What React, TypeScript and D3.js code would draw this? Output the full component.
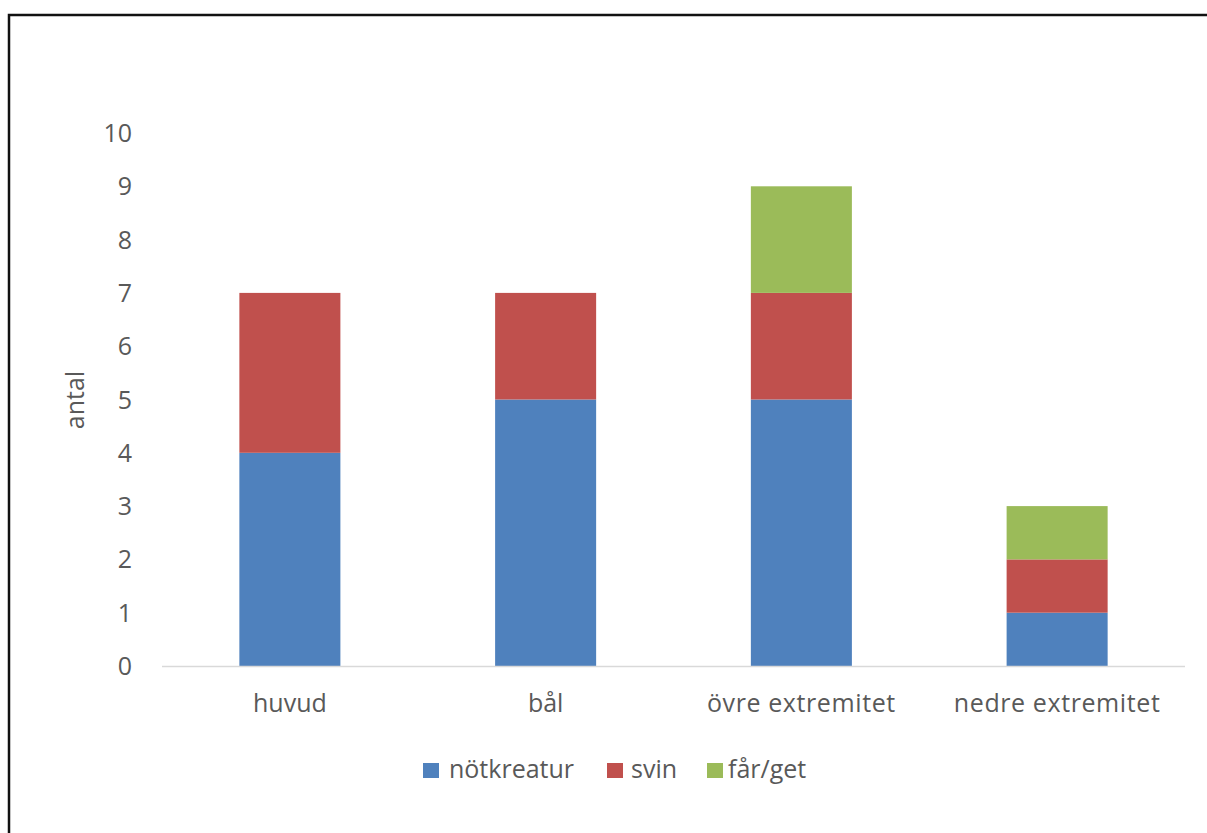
import React from "react";
import * as d3 from "d3";

// Body-part groups along the x axis
const categories = ["huvud", "bål", "övre extremitet", "nedre extremitet"];

// Counts per species, one value per body-part group
const notkreatur = [4, 5, 5, 1];
const svin = [3, 2, 2, 1];
const farGet = [0, 0, 2, 1];

const seriesNames = ["nötkreatur", "svin", "får/get"];
const seriesColors = ["#4F81BD", "#C0504D", "#9BBB59"];

const yTicks = [0, 1, 2, 3, 4, 5, 6, 7, 8, 9, 10];

const W = 1207;
const H = 833;
const FONT = "'Open Sans', 'Noto Sans', sans-serif";
const TEXT = "#595959";
const FS = 25;

export default function App() {
  const x = d3
    .scaleBand<string>()
    .domain(categories)
    .range([162, 1185])
    .paddingInner(0.605)
    .paddingOuter(0.3025);

  const y = d3.scaleLinear().domain([0, 10]).range([666, 133]);

  const rows = categories.map((c, i) => ({
    cat: c,
    s0: notkreatur[i],
    s1: svin[i],
    s2: farGet[i],
  }));
  const stack = d3.stack<any>().keys(["s0", "s1", "s2"]);
  const layers = stack(rows);

  // legend layout: square position and label start per entry
  const legendItems = [
    { sx: 423, tx: 449 },
    { sx: 607, tx: 631 },
    { sx: 707, tx: 728 },
  ];

  return (
    <svg
      width={W}
      height={H}
      style={{ position: "absolute", left: 0, top: 0, background: "#fff" }}
      fontFamily={FONT}
    >
      <rect x={0} y={0} width={W} height={H} fill="#fff" />
      {/* frame around the chart */}
      <rect x={9} y={15} width={W + 20} height={H + 20} fill="none" stroke="#111" strokeWidth={2.5} />

      {/* y tick labels */}
      {yTicks.map((t) => (
        <text
          key={t}
          x={132}
          y={y(t)}
          dy="0.36em"
          textAnchor="end"
          fontSize={FS}
          fill={TEXT}
        >
          {t}
        </text>
      ))}

      {/* y axis title */}
      <text
        transform={`translate(84, 400) rotate(-90)`}
        textAnchor="middle"
        fontSize={FS}
        fill={TEXT}
      >
        antal
      </text>

      {/* stacked bars */}
      {layers.map((layer, li) => (
        <g key={li} fill={seriesColors[li]}>
          {layer.map((d, i) =>
            d[1] - d[0] > 0 ? (
              <rect
                key={i}
                x={x(categories[i])}
                y={y(d[1])}
                width={x.bandwidth()}
                height={y(d[0]) - y(d[1])}
              />
            ) : null
          )}
        </g>
      ))}

      {/* category axis */}
      <line x1={162} x2={1185} y1={y(0) + 0.5} y2={y(0) + 0.5} stroke="#D9D9D9" strokeWidth={1.5} />
      {categories.map((c) => (
        <text
          key={c}
          x={(x(c) as number) + x.bandwidth() / 2}
          y={712}
          textAnchor="middle"
          fontSize={FS}
          letterSpacing={c.length > 10 ? 0.6 : 0}
          fill={TEXT}
        >
          {c}
        </text>
      ))}

      {/* legend */}
      {seriesNames.map((name, i) => (
        <g key={name}>
          <rect x={legendItems[i].sx} y={763} width={16} height={15} fill={seriesColors[i]} />
          <text x={legendItems[i].tx} y={778} fontSize={FS} fill={TEXT}>
            {name}
          </text>
        </g>
      ))}
    </svg>
  );
}
